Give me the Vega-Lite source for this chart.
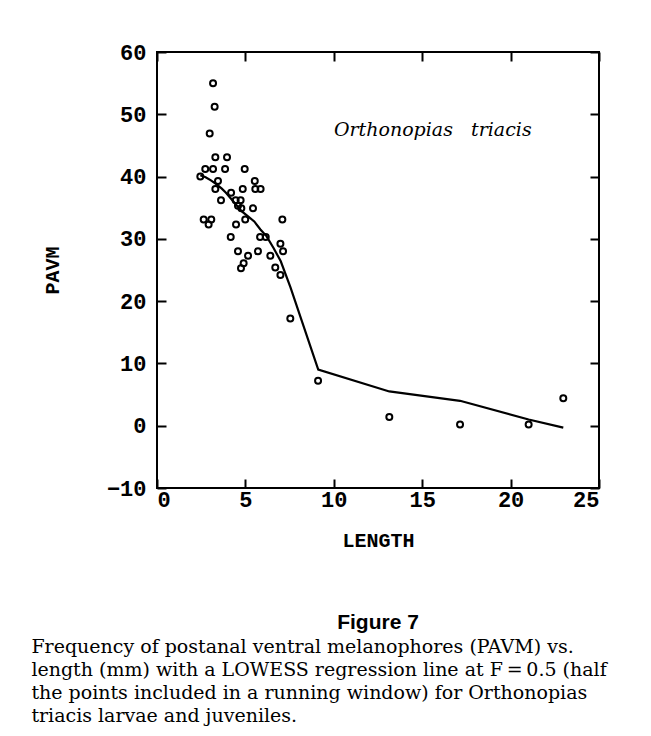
{
  "$schema": "https://vega.github.io/schema/vega-lite/v6.json",
  "background": "white",
  "padding": {"left": 31, "top": 40, "right": 20, "bottom": 8},
  "datasets": {
    "pts": [
      {"length": 3.17, "pavm": 55.0},
      {"length": 3.26, "pavm": 51.2},
      {"length": 2.98, "pavm": 46.9},
      {"length": 3.30, "pavm": 43.1},
      {"length": 3.96, "pavm": 43.1},
      {"length": 2.73, "pavm": 41.2},
      {"length": 3.17, "pavm": 41.2},
      {"length": 3.85, "pavm": 41.2},
      {"length": 4.96, "pavm": 41.2},
      {"length": 2.45, "pavm": 40.0},
      {"length": 3.45, "pavm": 39.3},
      {"length": 5.53, "pavm": 39.3},
      {"length": 3.30, "pavm": 38.0},
      {"length": 4.85, "pavm": 38.0},
      {"length": 5.56, "pavm": 38.0},
      {"length": 5.86, "pavm": 38.0},
      {"length": 4.19, "pavm": 37.4},
      {"length": 3.62, "pavm": 36.2},
      {"length": 4.45, "pavm": 36.2},
      {"length": 4.73, "pavm": 36.2},
      {"length": 4.58, "pavm": 35.3},
      {"length": 4.77, "pavm": 34.9},
      {"length": 5.43, "pavm": 34.9},
      {"length": 2.64, "pavm": 33.1},
      {"length": 3.07, "pavm": 33.1},
      {"length": 2.92, "pavm": 32.3},
      {"length": 4.99, "pavm": 33.1},
      {"length": 7.09, "pavm": 33.1},
      {"length": 4.47, "pavm": 32.3},
      {"length": 4.17, "pavm": 30.3},
      {"length": 5.83, "pavm": 30.3},
      {"length": 6.15, "pavm": 30.3},
      {"length": 6.98, "pavm": 29.2},
      {"length": 4.58, "pavm": 28.0},
      {"length": 5.71, "pavm": 28.0},
      {"length": 7.13, "pavm": 28.0},
      {"length": 5.15, "pavm": 27.3},
      {"length": 6.41, "pavm": 27.3},
      {"length": 4.90, "pavm": 26.1},
      {"length": 4.75, "pavm": 25.3},
      {"length": 6.69, "pavm": 25.4},
      {"length": 6.98, "pavm": 24.2},
      {"length": 7.54, "pavm": 17.2},
      {"length": 9.11, "pavm": 7.2},
      {"length": 13.14, "pavm": 1.4},
      {"length": 17.14, "pavm": 0.2},
      {"length": 21.02, "pavm": 0.2},
      {"length": 22.98, "pavm": 4.4}
    ],
    "lowess": [
      {"length": 2.45, "fit": 40.2},
      {"length": 2.75, "fit": 39.9},
      {"length": 3.05, "fit": 39.4},
      {"length": 3.35, "fit": 38.8},
      {"length": 3.65, "fit": 38.1},
      {"length": 3.9, "fit": 37.4},
      {"length": 4.2, "fit": 36.4},
      {"length": 4.5, "fit": 35.4},
      {"length": 4.8, "fit": 34.4},
      {"length": 5.15, "fit": 33.6},
      {"length": 5.5, "fit": 32.8},
      {"length": 5.85, "fit": 31.5},
      {"length": 6.2, "fit": 30.4},
      {"length": 6.6, "fit": 28.5},
      {"length": 7.0, "fit": 26.4},
      {"length": 7.55, "fit": 22.2},
      {"length": 9.12, "fit": 9.0},
      {"length": 13.14, "fit": 5.5},
      {"length": 17.14, "fit": 4.0},
      {"length": 21.02, "fit": 1.0},
      {"length": 22.98, "fit": -0.3}
    ],
    "label": [
      {"length": 15.6, "pavm": 47.5, "name": "Orthonopias\u00a0\u00a0\u00a0triacis"}
    ]
  },
  "title": {
    "text": [
      "Frequency of postanal ventral melanophores (PAVM) vs.",
      "length (mm) with a LOWESS regression line at F\u2009=\u20090.5 (half",
      "the points included in a running window) for Orthonopias",
      "triacis larvae and juveniles."
    ],
    "orient": "bottom",
    "anchor": "start",
    "frame": "bounds",
    "font": "DejaVu Serif",
    "fontSize": 19,
    "fontWeight": "normal",
    "lineHeight": 23,
    "color": "black",
    "offset": 4,
    "dx": -10
  },
  "vconcat": [
    {
      "width": 442,
      "height": 436,
      "title": {
        "text": "Figure 7",
        "orient": "bottom",
        "anchor": "middle",
        "frame": "group",
        "font": "Liberation Sans",
        "fontSize": 21,
        "fontWeight": "bold",
        "color": "black",
        "offset": 62
      },
      "layer": [
        {
          "data": {"name": "pts"},
          "mark": {"type": "point", "shape": "circle", "filled": false, "size": 36, "strokeWidth": 2, "color": "black", "opacity": 1},
          "encoding": {
            "x": {
              "field": "length", "type": "quantitative",
              "scale": {"domain": [0, 25], "nice": false},
              "axis": {"orient": "bottom", "title": "LENGTH", "values": [0, 5, 10, 15, 20, 25], "tickSize": -9, "labelPadding": 10, "titlePadding": 20}
            },
            "y": {
              "field": "pavm", "type": "quantitative",
              "scale": {"domain": [-10, 60], "nice": false, "zero": false},
              "axis": {"orient": "left", "title": "PAVM", "values": [-10, 0, 10, 20, 30, 40, 50, 60], "tickSize": -9, "labelPadding": 20, "titlePadding": 44}
            }
          }
        },
        {
          "data": {"name": "lowess"},
          "mark": {"type": "line", "color": "black", "strokeWidth": 2.2},
          "encoding": {
            "x": {
              "field": "length", "type": "quantitative",
              "axis": {"orient": "top", "title": null, "labels": false, "values": [0, 5, 10, 15, 20, 25], "tickSize": -9}
            },
            "y": {
              "field": "fit", "type": "quantitative",
              "axis": {"orient": "right", "title": null, "labels": false, "values": [-10, 0, 10, 20, 30, 40, 50, 60], "tickSize": -9}
            }
          }
        },
        {
          "data": {"name": "label"},
          "mark": {"type": "text", "font": "DejaVu Serif", "fontStyle": "italic", "fontSize": 19, "color": "black"},
          "encoding": {
            "x": {"field": "length", "type": "quantitative", "axis": null},
            "y": {"field": "pavm", "type": "quantitative", "axis": null},
            "text": {"field": "name"}
          }
        }
      ],
      "resolve": {"axis": {"x": "independent", "y": "independent"}}
    }
  ],
  "config": {
    "view": {"stroke": "black", "strokeWidth": 2},
    "axis": {
      "domain": false,
      "grid": false,
      "ticks": true,
      "tickColor": "black",
      "tickWidth": 2,
      "labelFont": "Liberation Mono",
      "labelFontWeight": "bold",
      "labelFontSize": 22,
      "labelColor": "black",
      "titleFont": "Liberation Mono",
      "titleFontWeight": "bold",
      "titleFontSize": 20,
      "titleColor": "black"
    }
  }
}
